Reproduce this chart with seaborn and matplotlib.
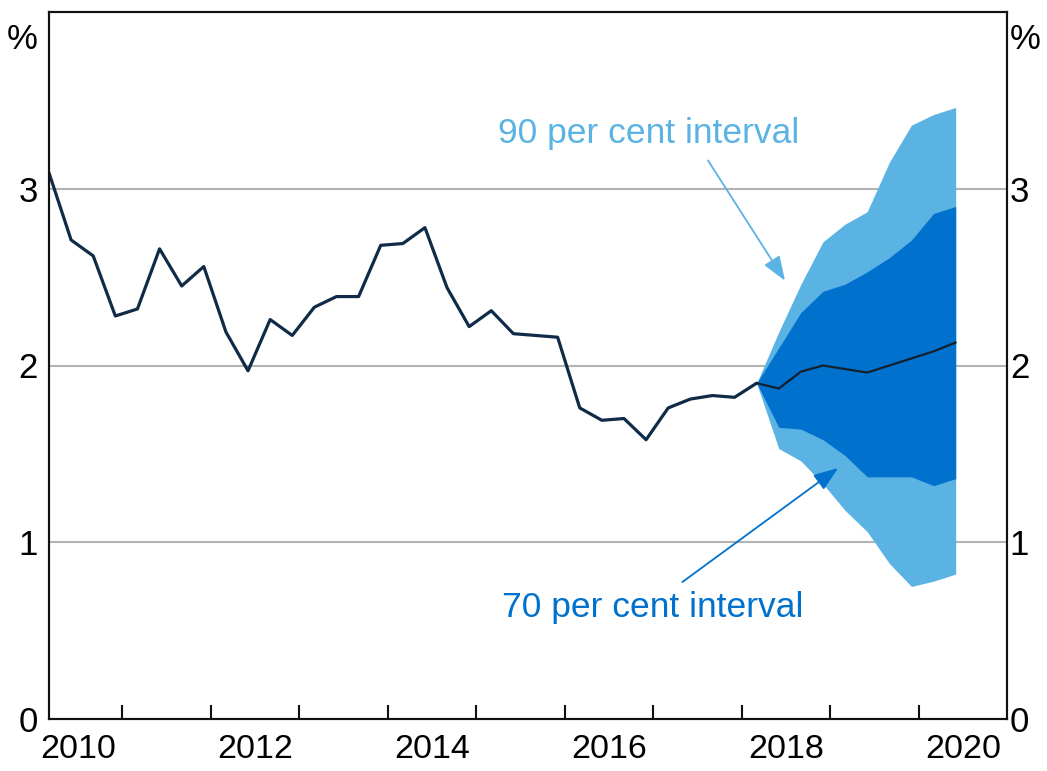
import numpy as np
import pandas as pd
import matplotlib
matplotlib.use("Agg")
import matplotlib.pyplot as plt
import seaborn as sns

# ---- data ----
start_year = 2010.17          # first quarterly observation (decimal year)
quarter_step = 0.25
history = [3.09, 2.71, 2.62, 2.28, 2.32, 2.66, 2.45, 2.56, 2.19, 1.97, 2.26,
           2.17, 2.33, 2.39, 2.39, 2.68, 2.69, 2.78, 2.44, 2.22, 2.31, 2.18,
           2.17, 2.16, 1.76, 1.69, 1.70, 1.58, 1.76, 1.81, 1.83, 1.82, 1.90]
forecast_central = [1.90, 1.87, 1.965, 2.00, 1.98, 1.96, 2.00, 2.04, 2.08, 2.13]
upper90 = [1.90, 2.19, 2.46, 2.70, 2.80, 2.87, 3.15, 3.36, 3.42, 3.46]
upper70 = [1.90, 2.10, 2.30, 2.42, 2.46, 2.53, 2.61, 2.71, 2.86, 2.90]
lower70 = [1.90, 1.65, 1.64, 1.58, 1.49, 1.37, 1.37, 1.37, 1.32, 1.36]
lower90 = [1.90, 1.53, 1.46, 1.33, 1.18, 1.06, 0.88, 0.75, 0.78, 0.82]
year_labels = ["2010", "2012", "2014", "2016", "2018", "2020"]
y_ticks = [0, 1, 2, 3]

# ---- positions ----
n_hist = len(history)
x_hist = start_year + quarter_step * np.arange(n_hist)
x_fc = start_year + quarter_step * np.arange(n_hist - 1, n_hist - 1 + len(forecast_central))

hist_df = pd.DataFrame({"x": x_hist, "y": history})
fc_df = pd.DataFrame({"x": x_fc, "y": forecast_central})

LIGHT = "#5BB3E3"
DARK = "#0072CE"
LINE = "#0F2B47"

sns.set_style("white")
plt.rcParams["font.family"] = ["Liberation Sans", "DejaVu Sans"]
plt.rcParams["text.color"] = "black"
plt.rcParams["xtick.color"] = "black"
plt.rcParams["ytick.color"] = "black"
plt.rcParams["xtick.labelcolor"] = "black"
plt.rcParams["ytick.labelcolor"] = "black"

fig = plt.figure(figsize=(10.47, 7.71), dpi=100)
ax = fig.add_axes([49 / 1047, 1 - 719 / 771, (1007 - 49) / 1047, (719 - 12) / 771])

ax.set_xlim(start_year, 2021.0)
ax.set_ylim(0, 4)

# grid
for t in y_ticks[1:]:
    ax.axhline(t, color="#b3b3b3", lw=1.5, zorder=0)

ax.fill_between(x_fc, lower90, upper90, color=LIGHT, lw=0, zorder=1)
ax.fill_between(x_fc, lower70, upper70, color=DARK, lw=0, zorder=2)

sns.lineplot(data=hist_df, x="x", y="y", ax=ax, color=LINE, lw=2.3, zorder=4)
sns.lineplot(data=fc_df, x="x", y="y", ax=ax, color="#14202c", lw=1.6, zorder=4)

# x axis: year ticks at boundaries, labels mid-year
ax.set_xticks(np.arange(2011, 2021))
ax.set_xticklabels([])
ax.tick_params(axis="x", which="major", direction="in", length=10, width=1.5,
               color="#111111", bottom=True)
ax.set_xticks([int(y) + 0.5 for y in year_labels], minor=True)
ax.set_xticklabels(year_labels, minor=True)
ax.tick_params(axis="x", which="minor", length=0, pad=11, labelsize=24.5)

ax.set_yticks(y_ticks)
ax.set_yticklabels([str(t) for t in y_ticks])
ax.tick_params(axis="y", which="major", length=0, labelsize=25, pad=8,
               left=False, right=False, labelleft=True, labelright=False)

ax2 = ax.twinx()
ax2.set_ylim(0, 4)
ax2.set_yticks(y_ticks)
ax2.set_yticklabels([str(t) for t in y_ticks])
ax2.tick_params(axis="y", length=0, labelsize=25, pad=2, right=False, labelright=True)
ax2.grid(False)

ax.set_xlabel("")
ax.set_ylabel("")
ax2.set_ylabel("")

for a in (ax, ax2):
    for s in a.spines.values():
        s.set_visible(True)
        s.set_color("#111111")
        s.set_linewidth(1.5)

ax.text(-0.012, 0.985, "%", transform=ax.transAxes, ha="right", va="top", fontsize=25)
ax.text(1.003, 0.985, "%", transform=ax.transAxes, ha="left", va="top", fontsize=25)

# annotations
ax.text(2016.95, 3.31, "90 per cent interval", fontsize=25.5, color=LIGHT,
        ha="center", va="center")
ax.text(2017.0, 0.63, "70 per cent interval", fontsize=25.5, color=DARK,
        ha="center", va="center")
arrow_kw = dict(arrowstyle="-|>,head_length=0.75,head_width=0.28", lw=1.3,
                shrinkA=0, shrinkB=0, mutation_scale=20)
ax.annotate("", xy=(2018.49, 2.48), xytext=(2017.62, 3.16),
            arrowprops=dict(color=LIGHT, **arrow_kw))
ax.annotate("", xy=(2019.09, 1.42), xytext=(2017.33, 0.775),
            arrowprops=dict(color=DARK, **arrow_kw))

fig.savefig("out.png", dpi=100)
